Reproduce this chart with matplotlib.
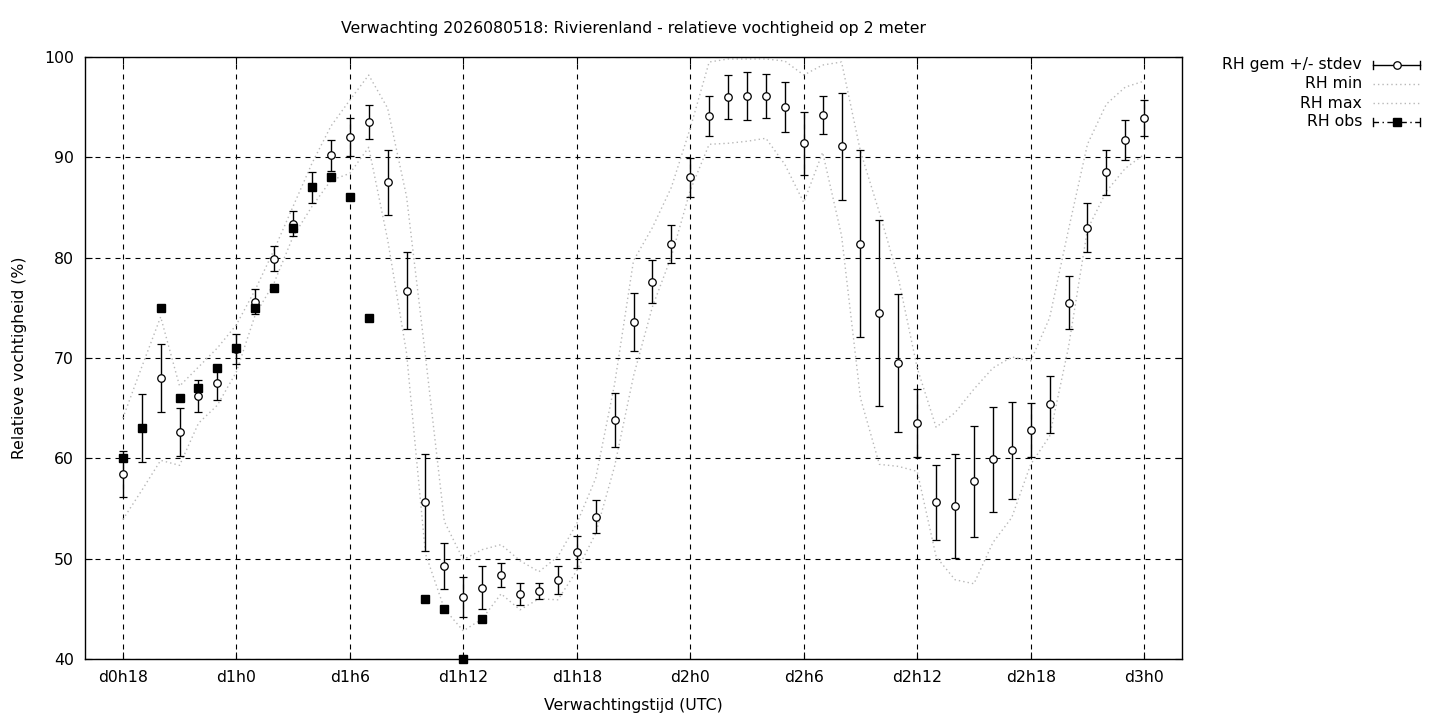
import matplotlib
matplotlib.use("Agg")
import matplotlib.pyplot as plt
from matplotlib.lines import Line2D

plt.rcParams['font.family'] = ['DejaVu Sans']

title = "Verwachting 2026080518: Rivierenland - relatieve vochtigheid op 2 meter"
xlabel = "Verwachtingstijd (UTC)"
ylabel = "Relatieve vochtigheid (%)"

hours = list(range(18, 73))
rh_mean = [58.4, 63.0, 68.0, 62.6, 66.2, 67.5, 70.9, 75.6, 79.9, 83.4,
           87.0, 90.2, 92.0, 93.5, 87.5, 76.7, 55.6, 49.3, 46.2, 47.1,
           48.4, 46.5, 46.8, 47.9, 50.7, 54.2, 63.8, 73.6, 77.6, 81.4,
           88.0, 94.1, 96.0, 96.1, 96.1, 95.0, 91.4, 94.2, 91.1, 81.4,
           74.5, 69.5, 63.5, 55.6, 55.25, 57.7, 59.9, 60.8, 62.8, 65.4,
           75.5, 83.0, 88.5, 91.7, 93.9]
rh_sd = [2.3, 3.4, 3.35, 2.4, 1.6, 1.7, 1.45, 1.25, 1.25, 1.25,
         1.55, 1.55, 1.9, 1.7, 3.25, 3.85, 4.85, 2.3, 2.0, 2.15,
         1.2, 1.1, 0.8, 1.4, 1.6, 1.65, 2.7, 2.9, 2.15, 1.9,
         1.95, 2.0, 2.2, 2.4, 2.2, 2.5, 3.15, 1.9, 5.35, 9.35,
         9.3, 6.9, 3.4, 3.7, 5.2, 5.5, 5.2, 4.85, 2.7, 2.85,
         2.65, 2.4, 2.25, 2.0, 1.8]
rh_min = [53.9, 56.8, 59.8, 59.3, 63.5, 65.3, 68.6, 74.3, 77.5, 82.1,
          85.1, 87.7, 88.4, 91.0, 81.8, 70.5, 50.5, 45.0, 42.8, 44.0,
          46.5, 44.9, 46.0, 45.9, 48.8, 52.5, 59.2, 68.2, 75.1, 80.1,
          86.7, 91.3, 91.4, 91.6, 91.9, 89.3, 85.5, 90.5, 82.2, 66.0,
          59.4, 59.2, 58.7, 50.2, 47.9, 47.5, 51.6, 54.1, 59.4, 62.2,
          71.1, 82.8, 86.6, 88.9, 90.3]
rh_max = [64.0, 69.1, 74.1, 67.2, 69.1, 71.0, 73.3, 76.8, 80.8, 85.1,
          89.4, 93.1, 95.7, 98.2, 94.9, 86.1, 70.2, 53.7, 49.9, 50.9,
          51.4, 49.8, 48.7, 50.2, 53.5, 58.0, 67.4, 79.7, 83.0, 87.0,
          92.9, 99.5, 99.8, 99.8, 99.8, 99.6, 98.2, 99.2, 99.5, 90.6,
          84.5, 78.0, 69.0, 63.1, 64.55, 66.9, 69.0, 70.1, 69.7, 74.0,
          82.8, 91.3, 95.3, 97.0, 97.6]
obs_hours = [18, 19, 20, 21, 22, 23, 24, 25, 26, 27, 28, 29, 30, 31, 34, 35, 36, 37]
rh_obs = [60, 63, 75, 66, 67, 69, 71, 75, 77, 83, 87, 88, 86, 74, 46, 45, 40, 44]

tick_hours = [18, 24, 30, 36, 42, 48, 54, 60, 66, 72]
tick_labels = ["d0h18", "d1h0", "d1h6", "d1h12", "d1h18", "d2h0", "d2h6",
               "d2h12", "d2h18", "d3h0"]
legend_labels = ["RH gem +/- stdev", "RH min", "RH max", "RH obs"]

FS = 11.3
W, H = 1440, 720
fig = plt.figure(figsize=(14.4, 7.2), dpi=100)
ax = fig.add_axes([85 / W, 1 - 659 / H, (1182 - 85) / W, (659 - 57) / H])

grey = "#b8b8b8"
dot = (0, (1, 2.2))
ax.plot(hours, rh_min, color=grey, linestyle=dot, linewidth=1.0, zorder=2)
ax.plot(hours, rh_max, color=grey, linestyle=dot, linewidth=1.0, zorder=2)

ax.errorbar(hours, rh_mean, yerr=rh_sd, fmt='o', color='black',
            markerfacecolor='white', markeredgecolor='black', markersize=5.4,
            markeredgewidth=0.9, elinewidth=1.0, capsize=3.2, capthick=1.0,
            zorder=4)
ax.errorbar(obs_hours, rh_obs, yerr=[0] * len(rh_obs), fmt='s', color='black',
            markersize=5.5, elinewidth=1.0, capsize=3.2, capthick=1.0, zorder=5,
            clip_on=False)

ax.set_xlim(16, 74)
ax.set_ylim(40, 100)
ax.set_xticks(tick_hours)
ax.set_xticklabels(tick_labels)
ax.set_yticks(range(40, 101, 10))
ax.tick_params(direction='in', length=5, width=0.8, top=True, right=True,
               labelsize=FS, pad=8)
ax.grid(True, color='black', linestyle=(0, (4.5, 4.5)), linewidth=0.8)
for s in ax.spines.values():
    s.set_linewidth(1.0)

ax.set_title(title, fontsize=FS, pad=17)
ax.set_xlabel(xlabel, fontsize=FS, labelpad=9)
ax.set_ylabel(ylabel, fontsize=FS, labelpad=12)

# legend (gnuplot style, samples to the right of labels)
rows_y = [65, 84, 103, 122]
x0, x1 = 1373, 1420
tx = 1362
def fx(px):
    return px / W
def fy(py):
    return 1 - py / H
for lab, py in zip(legend_labels, rows_y):
    fig.text(fx(tx), fy(py), lab, ha='right', va='center', fontsize=FS)
# mean
py = rows_y[0]
fig.add_artist(Line2D([fx(x0), fx(x1)], [fy(py), fy(py)], color='black', lw=1.0))
for xx in (x0, x1):
    fig.add_artist(Line2D([fx(xx), fx(xx)], [fy(py - 4), fy(py + 4)], color='black', lw=1.0))
fig.add_artist(Line2D([fx((x0 + x1) / 2)], [fy(py)], marker='o', markersize=5.4,
                      markerfacecolor='white', markeredgecolor='black', markeredgewidth=0.9))
# min / max
for py in rows_y[1:3]:
    fig.add_artist(Line2D([fx(x0), fx(x1)], [fy(py), fy(py)], color=grey, lw=1.0, linestyle=dot))
# obs
py = rows_y[3]
fig.add_artist(Line2D([fx(x0), fx(x1)], [fy(py), fy(py)], color='black', lw=1.0,
                      linestyle=(0, (4, 2.5, 1, 2.5))))
for xx in (x0, x1):
    fig.add_artist(Line2D([fx(xx), fx(xx)], [fy(py - 4), fy(py + 4)], color='black', lw=1.0))
fig.add_artist(Line2D([fx((x0 + x1) / 2)], [fy(py)], marker='s', markersize=5.5,
                      color='black'))

fig.savefig("out.png", dpi=100)
